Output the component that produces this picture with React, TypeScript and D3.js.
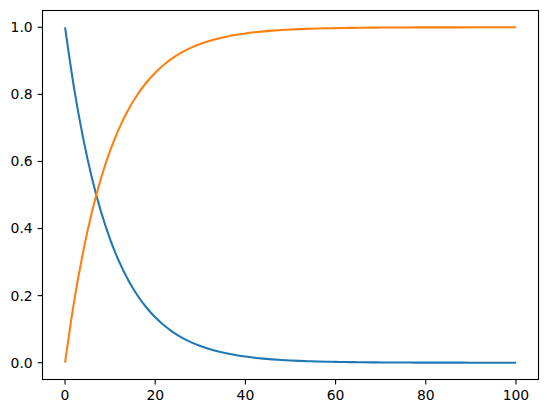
import React from "react";
import * as d3 from "d3";

const xValues: number[] = d3.range(0, 101, 2);
const decaySeries: number[] = [
  1.0, 0.8187, 0.6703, 0.5488, 0.4493, 0.3679, 0.3012, 0.2466, 0.2019, 0.1653,
  0.1353, 0.1108, 0.0907, 0.0743, 0.0608, 0.0498, 0.0408, 0.0334, 0.0273, 0.0224,
  0.0183, 0.015, 0.0123, 0.0101, 0.0082, 0.0067, 0.0055, 0.0045, 0.0037, 0.003,
  0.0025, 0.002, 0.0017, 0.0014, 0.0011, 0.0009, 0.0007, 0.0006, 0.0005, 0.0004,
  0.0003, 0.0003, 0.0002, 0.0002, 0.0002, 0.0001, 0.0001, 0.0001, 0.0001, 0.0001, 0.0,
];
const growthSeries: number[] = [
  0.0, 0.1813, 0.3297, 0.4512, 0.5507, 0.6321, 0.6988, 0.7534, 0.7981, 0.8347,
  0.8647, 0.8892, 0.9093, 0.9257, 0.9392, 0.9502, 0.9592, 0.9666, 0.9727, 0.9776,
  0.9817, 0.985, 0.9877, 0.9899, 0.9918, 0.9933, 0.9945, 0.9955, 0.9963, 0.997,
  0.9975, 0.998, 0.9983, 0.9986, 0.9989, 0.9991, 0.9993, 0.9994, 0.9995, 0.9996,
  0.9997, 0.9997, 0.9998, 0.9998, 0.9998, 0.9999, 0.9999, 0.9999, 0.9999, 0.9999, 1.0,
];
const xTicks: number[] = [0, 20, 40, 60, 80, 100];
const yTicks: number[] = [0.0, 0.2, 0.4, 0.6, 0.8, 1.0];

const W = 547;
const H = 413;
const left = 42.5;
const right = 538.5;
const top = 10.5;
const bottom = 379.5;

export default function App() {
  const x = d3.scaleLinear().domain([-5, 105]).range([left, right]);
  const y = d3.scaleLinear().domain([-0.05, 1.05]).range([bottom, top]);
  const line = d3
    .line<number>()
    .x((_, i) => x(xValues[i]))
    .y((d) => y(d))
    .curve(d3.curveMonotoneX);
  const font = "'DejaVu Sans', sans-serif";
  return (
    <svg
      width={W}
      height={H}
      style={{ position: "absolute", left: 0, top: 0, background: "#fff" }}
    >
      <rect x={0} y={0} width={W} height={H} fill="#fff" />
      <path d={line(decaySeries) || ""} fill="none" stroke="#1f77b4" strokeWidth={2.08} />
      <path d={line(growthSeries) || ""} fill="none" stroke="#ff7f0e" strokeWidth={2.08} />
      <rect
        x={left}
        y={top}
        width={right - left}
        height={bottom - top}
        fill="none"
        stroke="#000"
        strokeWidth={1.1}
      />
      {xTicks.map((t) => (
        <g key={"x" + t}>
          <line x1={x(t)} x2={x(t)} y1={bottom} y2={bottom + 4.9} stroke="#000" strokeWidth={1.1} />
          <text
            x={x(t)}
            y={bottom + 9.8}
            dy="0.76em"
            textAnchor="middle"
            fontFamily={font}
            fontSize={13.9}
            fill="#000"
          >
            {d3.format("d")(t)}
          </text>
        </g>
      ))}
      {yTicks.map((t) => (
        <g key={"y" + t}>
          <line x1={left} x2={left - 4.9} y1={y(t)} y2={y(t)} stroke="#000" strokeWidth={1.1} />
          <text
            x={left - 9.8}
            y={y(t)}
            dy="0.35em"
            textAnchor="end"
            fontFamily={font}
            fontSize={13.9}
            fill="#000"
          >
            {d3.format(".1f")(t)}
          </text>
        </g>
      ))}
    </svg>
  );
}
